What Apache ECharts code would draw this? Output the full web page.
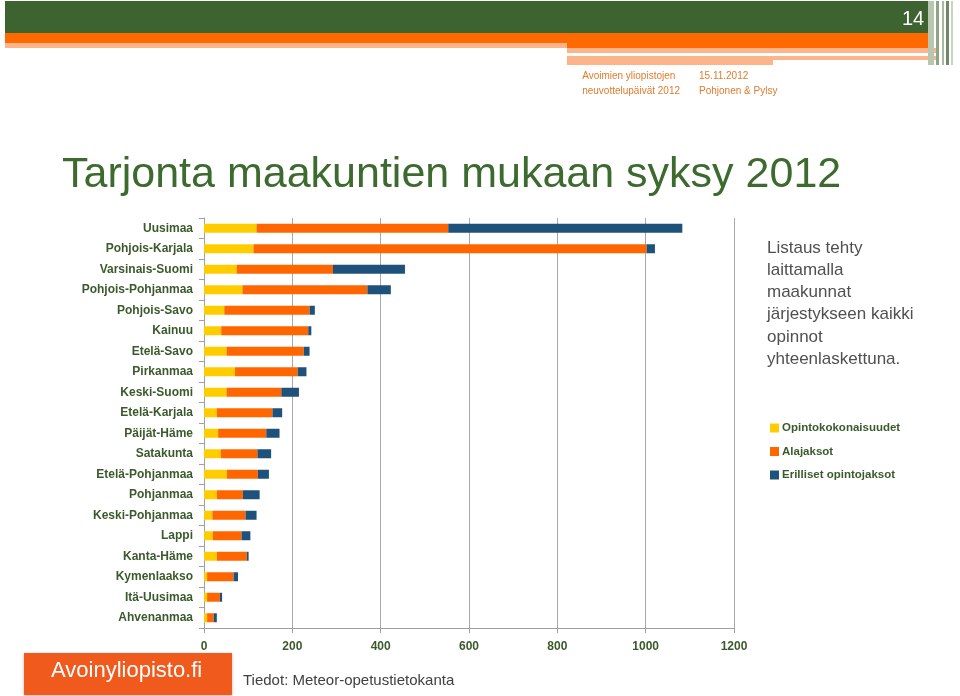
<!DOCTYPE html>
<html><head><meta charset="utf-8">
<script src="https://cdn.jsdelivr.net/npm/echarts@6/dist/echarts.min.js"></script>
<style>html,body{margin:0;padding:0;background:#fff}#c{width:960px;height:696px}</style>
</head><body><div id="c"></div>
<script>
const categories = ["Uusimaa","Pohjois-Karjala","Varsinais-Suomi","Pohjois-Pohjanmaa","Pohjois-Savo","Kainuu","Etelä-Savo","Pirkanmaa","Keski-Suomi","Etelä-Karjala","Päijät-Häme","Satakunta","Etelä-Pohjanmaa","Pohjanmaa","Keski-Pohjanmaa","Lappi","Kanta-Häme","Kymenlaakso","Itä-Uusimaa","Ahvenanmaa"];
const opintokokonaisuudet = [119,112,74,87,46,39,51,70,51,29,32,38,52,29,19,20,29,7,7,7];
const alajaksot = [434,890,218,283,193,197,175,142,124,126,109,83,70,59,75,65,68,60,29,15];
const erillisetOpintojaksot = [530,19,163,53,12,7,13,20,40,22,30,31,25,38,25,20,4,10,5,7];
const seriesNames = ["Opintokokonaisuudet","Alajaksot","Erilliset opintojaksot"];
const xTicks = {min:0,max:1200,interval:200};

const chart = echarts.init(document.getElementById('c'));
const labelColor = '#3b5a2c';
const green = '#3d6330';
const orange = '#ff6a00';
const lightOrange = '#fdb48a';
chart.setOption({
  animation:false,
  textStyle:{fontFamily:'Liberation Sans'},
  grid:{left:204,right:226,top:218,bottom:68,containLabel:false},
  legend:{
    orient:'vertical', left:765, top:417, itemGap:11.5, itemWidth:9, itemHeight:9,
    icon:'rect', data:seriesNames,
    textStyle:{color:labelColor,fontSize:11.5,fontWeight:'bold',fontFamily:'Liberation Sans',padding:[0,0,0,-2]}
  },
  xAxis:{
    type:'value', min:xTicks.min, max:xTicks.max, interval:xTicks.interval,
    axisLine:{show:true,lineStyle:{color:'#a0a0a0'}},
    axisTick:{show:true,length:5,lineStyle:{color:'#a0a0a0'}},
    splitLine:{show:true,lineStyle:{color:'#a8a8a8',width:1}},
    axisLabel:{color:labelColor,fontSize:12,fontWeight:'bold',margin:13,formatter:v=>String(v)}
  },
  yAxis:{
    type:'category', data:categories, inverse:true,
    axisLine:{show:true,lineStyle:{color:'#a0a0a0'}},
    axisTick:{show:true,length:5,lineStyle:{color:'#a0a0a0'}},
    axisLabel:{color:labelColor,fontSize:12,fontWeight:'bold',margin:11}
  },
  series:[
    {name:seriesNames[0],type:'bar',stack:'t',data:opintokokonaisuudet,barWidth:9,itemStyle:{color:'#ffcc00'}},
    {name:seriesNames[1],type:'bar',stack:'t',data:alajaksot,barWidth:9,itemStyle:{color:'#ff6600'}},
    {name:seriesNames[2],type:'bar',stack:'t',data:erillisetOpintojaksot,barWidth:9,itemStyle:{color:'#1f527a'}}
  ],
  graphic:[
    {type:'rect',shape:{x:5,y:1,width:923,height:32},style:{fill:green},silent:true},
    {type:'rect',shape:{x:5,y:33,width:923,height:10},style:{fill:orange},silent:true},
    {type:'rect',shape:{x:5,y:43,width:562,height:5},style:{fill:lightOrange},silent:true},
    {type:'rect',shape:{x:567,y:43,width:361,height:5},style:{fill:orange},silent:true},
    {type:'rect',shape:{x:567,y:48,width:371,height:5},style:{fill:lightOrange},silent:true},
    {type:'rect',shape:{x:567,y:56,width:371,height:4},style:{fill:lightOrange},silent:true},
    {type:'rect',shape:{x:567,y:60,width:206,height:5},style:{fill:lightOrange},silent:true},
    {type:'rect',shape:{x:928,y:1,width:6,height:64},style:{fill:'#b9c7b0'},silent:true},
    {type:'rect',shape:{x:936,y:1,width:3,height:64},style:{fill:'#8fa482'},silent:true},
    {type:'rect',shape:{x:942,y:1,width:2,height:64},style:{fill:'#a9b8a0'},silent:true},
    {type:'rect',shape:{x:946,y:1,width:3,height:64},style:{fill:'#6f8a62'},silent:true},
    {type:'rect',shape:{x:951,y:1,width:2,height:64},style:{fill:'#c9d3c3'},silent:true},
    {type:'text',left:902,top:9,style:{text:'14',fill:'#ffffff',font:'20px "Liberation Sans"'}},
    {type:'text',right:280,top:69,style:{text:'Avoimien yliopistojen\nneuvottelupäivät 2012',fill:'#e07b2c',font:'10px "Liberation Sans"',align:'right',lineHeight:15}},
    {type:'text',left:699,top:69,style:{text:'15.11.2012\nPohjonen & Pylsy',fill:'#e07b2c',font:'10px "Liberation Sans"',lineHeight:15}},
    {type:'text',left:62,top:154,style:{text:'Tarjonta maakuntien mukaan syksy 2012',fill:'#3d6a2e',font:'43px "Liberation Sans"'}},
    {type:'text',left:767,top:237,style:{text:'Listaus tehty\nlaittamalla\nmaakunnat\njärjestykseen kaikki\nopinnot\nyhteenlaskettuna.',fill:'#505050',font:'17px "Liberation Sans"',lineHeight:22.2}},
    {type:'rect',shape:{x:24,y:653,width:208,height:42},style:{fill:'#f15a1d',shadowColor:'rgba(0,0,0,0.3)',shadowBlur:3,shadowOffsetY:1},silent:true},
    {type:'text',left:51,top:660,style:{text:'Avoinyliopisto.fi',fill:'#ffffff',font:'22px "Liberation Sans"'}},
    {type:'text',left:243,top:673,style:{text:'Tiedot: Meteor-opetustietokanta',fill:'#404040',font:'15px "Liberation Sans"'}}
  ]
});
</script></body></html>
